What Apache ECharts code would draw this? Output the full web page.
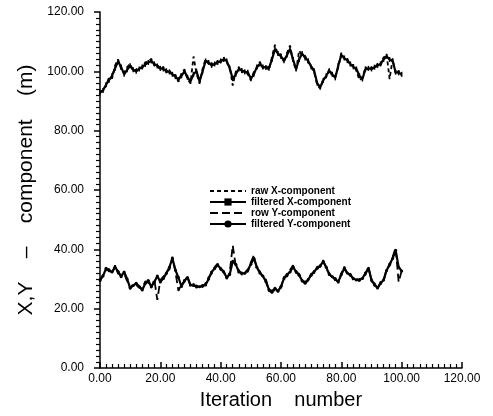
<!DOCTYPE html>
<html><head><meta charset="utf-8">
<script src="https://cdn.jsdelivr.net/npm/echarts@6/dist/echarts.min.js"></script>
<style>html,body{margin:0;padding:0;background:#fff}#c{width:493px;height:416px}</style>
</head><body><div id="c"></div>
<script>
var iterations = [];
for (var k = 0; k <= 100; k++) iterations.push(k);

var filteredX = [92.9,93.5,95.5,97,98.5,101,103.3,101.5,99,100.5,101.9,100.5,100,100.8,101.5,102.3,103,103.5,102.5,101.8,
101,100.8,100.2,99.8,99,98.2,97.2,98.5,100,98,96.6,99,100,96.6,100,103.5,103,102,102.5,103,
103.5,104,103.5,101,97.5,99,100.8,100.3,99.8,99.7,97.5,99,101.5,102.5,101.5,101.3,101,104,107.5,106,
105,103.6,105.5,107.5,104,100.8,104,106,104.5,103.6,101.5,100.2,96,94.6,96.9,98.5,100.2,99,97.8,102,
105.5,104.5,103.6,102.5,101.5,100.8,98.5,97.4,100.8,101,100.8,101.4,102,102.5,104,105.1,104,103.6,99.7,99.5,99];
var rawX = [92.5,94.2,95,98,97.6,102,104,100.8,99.5,101.4,102.5,100,100.6,101.3,101,103,103.4,104.2,102,102.4,
100.4,101.5,99.6,100.5,98.5,98.8,96.5,99.2,100.6,97.4,96,105,99.2,96,100.8,104.2,102.4,102.8,101.8,103.6,
103,104.8,102.8,101.6,95.2,99.8,101.4,99.6,100.4,99,97,99.8,101,103.2,101,102,100.4,104.8,109,105.4,
105.8,103,106.2,108.7,103.4,100.2,107,105.4,105.2,103,102.2,99.6,95.4,94.2,97.6,98,100.8,98.4,98.4,101.4,
106.2,104,104.2,102,102.2,100.2,97,97.8,101.4,100.4,101.4,100.8,102.6,102,104.6,105.8,97.4,104.2,99,100.2,98.6];
var filteredY = [29.7,31,33.6,32.8,32.4,34,32.5,30.8,32.4,30,27,27.8,28.6,27.5,26.3,28.5,29.5,27.4,29,31,
29,30.2,31.9,34,36.9,33,30.5,27.5,29.5,30.5,28,27.8,27.6,27.4,27.8,28,30,32.4,33.5,34.7,
33.5,32.4,30.5,31.5,36,35,32.4,32,31.9,33,35,37,34,32,31,29.1,26.5,25.5,26.9,25.9,
27.5,30.2,31.5,32.4,34,32.5,31.3,29.5,28.6,29.8,31.3,32.5,33.6,34.5,35.8,34,31.5,30.8,29.8,29.1,
31.5,33.6,32,31.3,30.2,29.7,29.8,30.2,32,33.6,29.7,28,27,28.5,29.7,32.9,35,36.9,39.7,34,32.7];
var rawY = [29,31.6,33,33.4,31.8,34.6,31.8,31.4,31.8,29.4,26.6,28.4,28,27,26.8,29.2,28.8,27,29.8,23,
29.6,30.8,32.4,33.2,37.5,32.4,26,28.2,29,31,27.4,28.4,27,28,27.2,28.6,30.6,31.8,34,35.2,
33,32.8,30,32.2,41.3,34.4,33,31.4,32.6,32.4,35.6,38,33.4,32.6,30.4,29.8,25.8,26.2,26.2,26.4,
27,30.8,30.8,33,34.6,32,31.8,29,29.2,29.2,31.8,32,34.2,34,36.4,33.4,32,30.2,30.4,28.6,
32,34.2,31.4,31.8,29.6,30.2,29.2,30.8,31.4,34.2,29.2,28.6,26.6,29,29.2,33.4,34.4,37.4,40.5,29,32.8];

var xTicks = [0,20,40,60,80,100,120];
var yTicks = [0,20,40,60,80,100,120];

function pairs(arr){ return arr.map(function(v,i){ return [iterations[i], v]; }); }

var font = 'Liberation Sans';
var chart = echarts.init(document.getElementById('c'));
chart.setOption({
  animation:false,
  grid:{left:100,right:31,top:12,bottom:48},
  legend:{
    orient:'vertical', left:204, top:181, itemGap:1, itemWidth:36, itemHeight:9,
    textStyle:{fontFamily:font,fontSize:10,fontWeight:'bold',color:'#000'},
    data:[
      {name:'raw X-component', itemStyle:{opacity:0}},
      {name:'filtered X-component'},
      {name:'row Y-component', itemStyle:{opacity:0}},
      {name:'filtered Y-component'}
    ]
  },
  xAxis:{
    type:'value', min:xTicks[0], max:xTicks[xTicks.length-1], interval:20,
    axisLine:{show:true,lineStyle:{color:'#000',width:1.5}},
    axisTick:{show:true,inside:true,length:6,lineStyle:{color:'#000',width:1.5}},
    minorTick:{show:true,splitNumber:10,length:4,lineStyle:{color:'#000',width:1.2}},
    splitLine:{show:false},
    axisLabel:{color:'#000',fontFamily:font,fontSize:12,margin:5,formatter:function(v){return v.toFixed(2);}},
    name:'Iteration    number', nameLocation:'middle', nameGap:22,
    nameTextStyle:{color:'#000',fontFamily:font,fontSize:20}
  },
  yAxis:{
    type:'value', min:yTicks[0], max:yTicks[yTicks.length-1], interval:20,
    axisLine:{show:true,lineStyle:{color:'#000',width:1.5}},
    axisTick:{show:true,length:6,lineStyle:{color:'#000',width:1.5}},
    minorTick:{show:true,splitNumber:10,length:4,lineStyle:{color:'#000',width:1.2}},
    splitLine:{show:false},
    axisLabel:{color:'#000',fontFamily:font,fontSize:12,margin:16,formatter:function(v){return v.toFixed(2);}},
    name:'X,Y    \u2013    component    (m)', nameLocation:'middle', nameGap:63,
    nameTextStyle:{color:'#000',fontFamily:font,fontSize:21}
  },
  series:[
    {name:'raw X-component',type:'line',data:pairs(rawX),showSymbol:false,symbol:'none',
     lineStyle:{color:'#000',width:1.8,type:[4,3]},itemStyle:{color:'#000'}},
    {name:'filtered X-component',type:'line',data:pairs(filteredX),symbol:'rect',symbolSize:[1.5,5],showSymbol:true,
     lineStyle:{color:'#000',width:2.2},itemStyle:{color:'#000'}},
    {name:'row Y-component',type:'line',data:pairs(rawY),showSymbol:false,symbol:'none',
     lineStyle:{color:'#000',width:1.8,type:[8,4]},itemStyle:{color:'#000'}},
    {name:'filtered Y-component',type:'line',data:pairs(filteredY),symbol:'circle',symbolSize:3,showSymbol:true,
     lineStyle:{color:'#000',width:2.2},itemStyle:{color:'#000'}}
  ]
});
</script></body></html>
